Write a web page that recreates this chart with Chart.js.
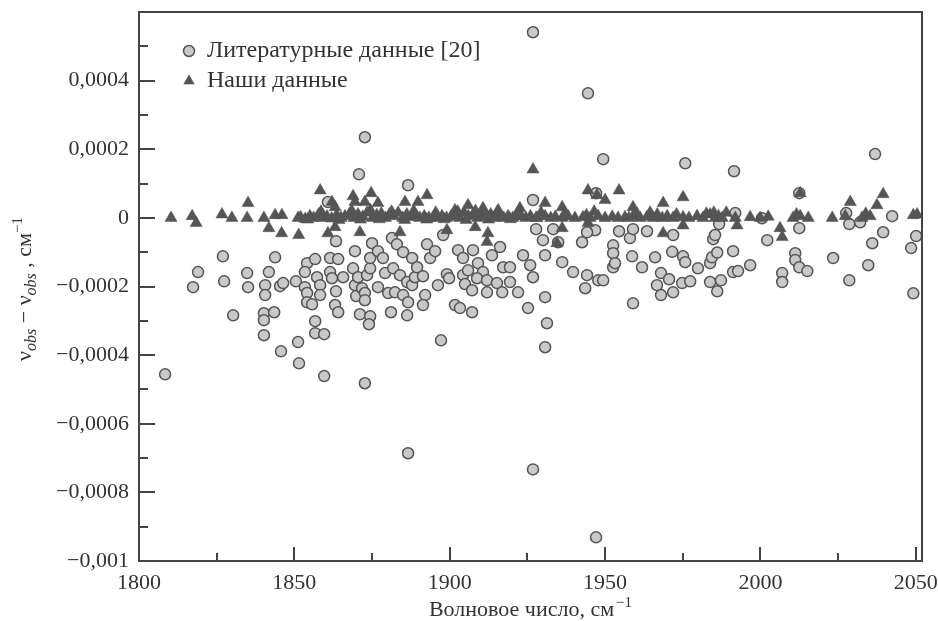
<!DOCTYPE html>
<html>
<head>
<meta charset="utf-8">
<script src="https://cdn.jsdelivr.net/npm/chart.js@4/dist/chart.umd.min.js"></script>
<style>
  html, body { margin: 0; padding: 0; background: #fff; }
  canvas { display: block; }
</style>
</head>
<body>
<canvas id="chart" width="938" height="621"></canvas>
<script>
// ─── данные: литературные (кружки) ───
const litX = [
  1808.4, 1817.4, 1819.0, 1827.0, 1827.4, 1830.3, 1834.8, 1835.1, 1840.2, 1840.2,
  1840.2, 1840.6, 1840.6, 1841.8, 1843.5, 1843.8, 1845.7, 1845.4, 1846.4, 1850.5,
  1851.2, 1851.5,
  1853.4, 1854.1, 1854.1, 1855.7, 1854.1, 1856.7, 1853.4, 1857.3, 1858.3, 1858.3,
  1861.5, 1864.1, 1861.5, 1862.1, 1863.4, 1863.4, 1863.1, 1864.1, 1865.7, 1869.5,
  1868.9, 1869.5, 1869.9, 1871.8, 1870.5, 1873.4, 1874.4, 1874.4, 1875.0, 1872.7,
  1872.7, 1871.1, 1874.4, 1874.0, 1876.9, 1876.9, 1878.5, 1879.2, 1880.2, 1881.8,
  1881.4, 1883.0, 1882.4, 1884.0, 1885.0, 1885.0, 1886.3, 1886.6, 1887.9, 1887.9,
  1888.8, 1889.5, 1891.4, 1892.1, 1892.7, 1893.7, 1891.4, 1886.3, 1881.1, 1895.3,
  1897.2, 1897.9, 1896.2, 1899.1, 1899.8, 1901.7, 1903.3, 1902.7, 1904.3, 1904.3,
  1904.9, 1856.7, 1856.7, 1859.6, 1859.6, 1872.7,
  1907.5, 1905.9, 1909.1, 1910.7, 1913.6, 1916.2, 1917.2, 1919.4, 1908.8, 1912.0,
  1915.2, 1919.4, 1907.2, 1912.0, 1916.9, 1922.0, 1907.2, 1925.2, 1930.7, 1931.3,
  1930.7, 1926.8, 1927.8, 1930.0, 1930.7, 1933.3, 1934.9, 1936.2, 1942.6, 1946.8,
  1939.7, 1944.2, 1943.6, 1947.8, 1952.6, 1952.6, 1949.4, 1925.9, 1926.8, 1923.6,
  1944.2,
  1954.5, 1952.6, 1953.2, 1958.0, 1959.0, 1963.5, 1958.7, 1961.9, 1966.1, 1968.0,
  1966.7, 1968.0, 1970.6, 1971.6, 1971.9, 1971.9, 1975.1, 1975.8, 1974.8, 1977.4,
  1979.9, 1983.8, 1983.8, 1984.4, 1984.8, 1985.4, 1986.1, 1987.3, 1986.1, 1959.0,
  1991.2, 1991.2, 1992.8, 1996.7, 2002.2, 2012.5, 2011.2, 2011.2, 2012.5, 2015.1,
  2007.0, 2007.0, 2023.4, 2028.6, 2034.7, 2036.0, 2039.5, 2050.1, 2048.5, 2049.2,
  2042.4, 2027.6, 2028.6, 2032.1, 1986.7, 2000.5, 1991.9,
  1926.8, 1944.5, 1872.7, 1870.8, 1886.6, 1949.4, 1947.1, 1860.8, 1975.8, 1991.5,
  2036.9, 2012.5, 1886.6, 1926.8, 1947.1
];
const litY = [
  -4.56e-4, -2.02e-4, -1.58e-4, -1.12e-4, -1.85e-4, -2.84e-4, -1.61e-4, -2.02e-4, -2.78e-4, -2.98e-4,
  -3.42e-4, -1.96e-4, -2.25e-4, -1.58e-4, -2.75e-4, -1.15e-4, -3.89e-4, -1.99e-4, -1.90e-4, -1.85e-4,
  -3.62e-4, -4.24e-4,
  -2.02e-4, -2.19e-4, -2.46e-4, -2.52e-4, -1.32e-4, -1.20e-4, -1.58e-4, -1.73e-4, -1.96e-4, -2.25e-4,
  -1.17e-4, -1.20e-4, -1.58e-4, -1.76e-4, -0.68e-4, -2.14e-4, -2.54e-4, -2.75e-4, -1.73e-4, -0.97e-4,
  -1.47e-4, -1.96e-4, -2.28e-4, -2.05e-4, -1.73e-4, -1.67e-4, -1.47e-4, -1.17e-4, -0.74e-4, -2.19e-4,
  -2.40e-4, -2.81e-4, -2.87e-4, -3.10e-4, -0.97e-4, -2.02e-4, -1.17e-4, -1.61e-4, -2.19e-4, -1.47e-4,
  -0.59e-4, -0.77e-4, -2.17e-4, -1.67e-4, -1.00e-4, -2.25e-4, -1.87e-4, -2.46e-4, -1.17e-4, -1.96e-4,
  -1.73e-4, -1.44e-4, -1.70e-4, -2.25e-4, -0.77e-4, -1.17e-4, -2.54e-4, -2.84e-4, -2.75e-4, -0.97e-4,
  -3.57e-4, -0.50e-4, -1.96e-4, -1.64e-4, -1.76e-4, -2.54e-4, -2.63e-4, -0.94e-4, -1.17e-4, -1.67e-4,
  -1.93e-4, -3.01e-4, -3.36e-4, -3.39e-4, -4.61e-4, -4.82e-4,
  -0.94e-4, -1.53e-4, -1.32e-4, -1.58e-4, -1.09e-4, -0.85e-4, -1.44e-4, -1.44e-4, -1.76e-4, -1.82e-4,
  -1.90e-4, -1.87e-4, -2.11e-4, -2.17e-4, -2.17e-4, -2.17e-4, -2.75e-4, -2.63e-4, -2.31e-4, -3.07e-4,
  -3.77e-4, 0.52e-4, -0.33e-4, -0.65e-4, -1.09e-4, -0.33e-4, -0.71e-4, -1.29e-4, -0.71e-4, -0.36e-4,
  -1.58e-4, -1.67e-4, -2.05e-4, -1.82e-4, -0.80e-4, -1.44e-4, -1.82e-4, -1.38e-4, -1.73e-4, -1.09e-4,
  -0.42e-4,
  -0.39e-4, -1.03e-4, -1.32e-4, -0.59e-4, -0.33e-4, -0.39e-4, -1.12e-4, -1.44e-4, -1.15e-4, -1.61e-4,
  -1.96e-4, -2.25e-4, -1.79e-4, -0.99e-4, -0.50e-4, -2.17e-4, -1.12e-4, -1.29e-4, -1.90e-4, -1.85e-4,
  -1.47e-4, -1.87e-4, -1.32e-4, -1.15e-4, -0.62e-4, -0.50e-4, -1.01e-4, -1.82e-4, -2.14e-4, -2.49e-4,
  -0.97e-4, -1.58e-4, -1.55e-4, -1.38e-4, -0.65e-4, -0.30e-4, -1.03e-4, -1.23e-4, -1.44e-4, -1.55e-4,
  -1.61e-4, -1.87e-4, -1.17e-4, -1.82e-4, -1.38e-4, -0.74e-4, -0.42e-4, -0.53e-4, -0.88e-4, -2.20e-4,
  0.05e-4, 0.14e-4, -0.18e-4, -0.13e-4, -0.18e-4, -0.01e-4, 0.14e-4,
  5.41e-4, 3.63e-4, 2.35e-4, 1.27e-4, 0.95e-4, 1.71e-4, 0.72e-4, 0.46e-4, 1.59e-4, 1.36e-4,
  1.86e-4, 0.72e-4, -6.86e-4, -7.33e-4, -9.31e-4
];

// ─── данные: наши (треугольники) ───
const ourX = [
  1810.3, 1817.1, 1818.4, 1826.7, 1829.9, 1835.1, 1834.8, 1840.2, 1841.8, 1843.8,
  1846.0, 1845.9, 1851.4, 1851.2,
  1852.0, 1853.5, 1855.0, 1856.2, 1857.8, 1859.0, 1860.5, 1862.0, 1863.6, 1865.0,
  1866.3, 1867.8, 1869.2, 1870.5, 1872.0, 1873.4, 1875.2, 1876.5, 1878.0, 1879.3,
  1880.6, 1882.0, 1883.4, 1884.9, 1886.2, 1887.7, 1889.0, 1890.4, 1891.8, 1893.3,
  1894.8, 1896.0, 1897.5, 1899.0, 1900.4, 1901.9, 1903.2, 1904.6, 1906.0, 1907.5,
  1909.0, 1910.3, 1911.8, 1913.2, 1914.5, 1916.0, 1917.4, 1918.8, 1920.3, 1921.6,
  1923.0, 1924.5, 1926.0, 1927.8,
  1854.3, 1858.6, 1864.4, 1868.5, 1871.3, 1874.5, 1877.3, 1881.3, 1885.5, 1888.4,
  1892.6, 1895.5, 1898.2, 1902.6, 1905.3, 1908.3, 1912.5, 1915.3, 1919.5, 1922.3,
  1858.3, 1862.1, 1863.1, 1868.9, 1869.5, 1874.7, 1872.7, 1876.9, 1885.6, 1889.8,
  1892.7, 1905.9, 1910.7, 1915.6, 1922.6, 1901.7, 1860.8, 1863.1, 1871.1, 1884.0,
  1899.1, 1908.2, 1912.3, 1926.8, 1934.5, 1912.0,
  1928.1, 1930.7, 1932.5, 1934.0, 1936.2, 1938.1, 1940.3, 1942.9, 1944.0, 1945.2,
  1947.8, 1950.0, 1952.3, 1954.2, 1956.4, 1957.7, 1959.0, 1961.3, 1963.5, 1965.5,
  1966.8, 1968.4, 1970.0, 1971.9, 1975.1, 1977.0, 1979.6, 1981.5, 1983.8, 1985.0,
  1985.4, 1986.5, 1987.7, 1991.9, 1996.7, 1999.9, 2002.5, 2010.5, 2012.8, 2015.4,
  2023.1, 2027.3, 2032.7, 2035.3, 2049.2, 2050.4,
  1929.4, 1937.1, 1946.5, 1960.2, 1964.5, 1973.0, 1982.6, 1989.0, 2011.6, 2033.9,
  1944.5, 1947.4, 1950.0, 1954.5, 1930.7, 1936.2, 1975.1, 1959.0, 1968.7, 2028.9,
  2039.5, 2037.5, 2012.8, 1944.5, 1975.1, 2006.3, 2007.0, 1968.7, 1936.2, 1992.5
];
const ourY = [
  0, 0.05e-4, -0.15e-4, 0.1e-4, 0, 0.43e-4, 0, 0, -0.30e-4, 0.08e-4,
  0.08e-4, -0.45e-4, -0.5e-4, 0,
  0.02e-4, -0.03e-4, 0.05e-4, 0, 0.1e-4, 0, 0.04e-4, -0.02e-4, 0.08e-4, 0,
  0.05e-4, 0.12e-4, 0, 0.1e-4, 0.03e-4, 0.15e-4, 0, 0.08e-4, 0.12e-4, 0,
  0.1e-4, 0.05e-4, 0.15e-4, 0, 0.1e-4, 0.02e-4, 0.08e-4, 0, 0.05e-4, 0,
  0.02e-4, 0, 0.05e-4, 0, 0.03e-4, 0.1e-4, 0, 0.15e-4, 0.05e-4, 0.1e-4,
  0, 0.12e-4, 0.04e-4, 0.1e-4, 0, 0.08e-4, 0, 0.05e-4, 0, 0.1e-4,
  0.04e-4, 0, 0.05e-4, 0,
  -0.05e-4, 0.18e-4, -0.06e-4, 0.2e-4, -0.05e-4, 0.22e-4, -0.04e-4, 0.18e-4, -0.06e-4, 0.2e-4,
  -0.05e-4, 0.15e-4, -0.04e-4, 0.18e-4, -0.06e-4, 0.2e-4, -0.05e-4, 0.16e-4, -0.04e-4, 0.15e-4,
  0.80e-4, 0.46e-4, 0.31e-4, 0.63e-4, 0.46e-4, 0.72e-4, 0.46e-4, 0.43e-4, 0.46e-4, 0.46e-4,
  0.66e-4, 0.37e-4, 0.28e-4, 0.22e-4, 0.28e-4, 0.22e-4, -0.45e-4, -0.27e-4, -0.42e-4, -0.42e-4,
  -0.36e-4, -0.27e-4, -0.45e-4, 1.41e-4, -0.74e-4, -0.70e-4,
  0, 0.05e-4, 0, 0.03e-4, 0, 0.05e-4, 0, 0.02e-4, 0.08e-4, 0,
  0.05e-4, 0, 0.03e-4, 0, 0.02e-4, 0, 0.05e-4, 0, 0.03e-4, 0,
  0.1e-4, 0, 0.05e-4, 0, 0.02e-4, 0, 0.05e-4, 0, 0.1e-4, 0.15e-4,
  0, 0.05e-4, 0, 0, 0.02e-4, 0, 0.03e-4, 0, 0.05e-4, 0,
  0, 0.05e-4, 0, 0.05e-4, 0.08e-4, 0.1e-4,
  0.15e-4, 0.12e-4, 0.18e-4, 0.12e-4, 0.15e-4, 0.1e-4, 0.12e-4, 0.15e-4, 0.1e-4, 0.12e-4,
  0.80e-4, 0.66e-4, 0.52e-4, 0.80e-4, 0.43e-4, 0.31e-4, 0.60e-4, 0.31e-4, 0.43e-4, 0.46e-4,
  0.69e-4, 0.37e-4, 0.72e-4, -0.15e-4, -0.22e-4, -0.30e-4, -0.56e-4, -0.45e-4, -0.30e-4, -0.22e-4
];

// ─── подписи ───
const litLabel = "Литературные данные [20]";
const ourLabel = "Наши данные";
const xTitle = "Волновое число, см";

const ink = "#444";
const serif = "'Liberation Serif', 'DejaVu Serif', serif";

// ─── форматирование меток ───
function fmtY(v) {
  const k = Math.round(v * 1e4);
  if (k % 2 !== 0 || k === 6) return "";
  if (k === 0) return "0";
  return String(parseFloat(v.toFixed(4))).replace(".", ",").replace("-", "\u2212");
}

function fmtX(v) {
  return Math.round(v) % 50 === 0 ? String(Math.round(v)) : "";
}

function triangle(ctx, x, y, r) {
  ctx.beginPath();
  ctx.moveTo(x, y - r);
  ctx.lineTo(x + r * 0.866, y + r / 2);
  ctx.lineTo(x - r * 0.866, y + r / 2);
  ctx.closePath();
  ctx.fill();
}

// ─── рамка, засечки, легенда, подписи осей ───
const decor = {
  id: "decor",
  afterDraw(chart) {
    const ctx = chart.ctx;
    const a = chart.chartArea;
    const xs = chart.scales.x, ys = chart.scales.y;
    ctx.save();
    ctx.strokeStyle = ink;
    ctx.lineWidth = 2;
    ctx.strokeRect(a.left, a.top, a.right - a.left, a.bottom - a.top);

    // засечки внутрь
    ctx.beginPath();
    ys.ticks.forEach(t => {
      const k = Math.round(t.value * 1e4);
      if (k >= 6) return;
      const py = Math.round(ys.getPixelForValue(t.value));
      const len = k % 2 === 0 ? 16 : 9;
      ctx.moveTo(a.left, py);
      ctx.lineTo(a.left + len, py);
    });
    xs.ticks.forEach(t => {
      const k = Math.round(t.value);
      if (k <= 1800) return;
      const px = Math.round(xs.getPixelForValue(t.value));
      const len = k % 50 === 0 ? 14 : 8;
      ctx.moveTo(px, a.bottom);
      ctx.lineTo(px, a.bottom - len);
    });
    ctx.stroke();

    // легенда
    ctx.fillStyle = "#c9c9c9";
    ctx.strokeStyle = "#555";
    ctx.lineWidth = 1.5;
    ctx.beginPath();
    ctx.arc(189, 51, 5.5, 0, Math.PI * 2);
    ctx.fill();
    ctx.stroke();
    ctx.fillStyle = "#555";
    triangle(ctx, 189, 81, 6.5);
    ctx.fillStyle = "#333";
    ctx.font = "24px " + serif;
    ctx.textBaseline = "middle";
    ctx.textAlign = "left";
    ctx.fillText(litLabel, 207, 51);
    ctx.fillText(ourLabel, 207, 81);

    // подпись оси X
    ctx.textBaseline = "alphabetic";
    ctx.font = "22px " + serif;
    const w1 = ctx.measureText(xTitle).width;
    ctx.font = "15px " + serif;
    const w2 = ctx.measureText("\u22121").width;
    const x0 = (a.left + a.right) / 2 - (w1 + w2 + 2) / 2;
    ctx.font = "22px " + serif;
    ctx.fillText(xTitle, x0, 616);
    ctx.font = "15px " + serif;
    ctx.fillText("\u22121", x0 + w1 + 2, 607);

    // подпись оси Y
    const parts = [
      ["\u03bd", "22px", 0], ["obs", "italic 16px", 5], [" \u2212 ", "22px", 0],
      ["\u03bd", "22px", 0], ["obs", "italic 16px", 5], [" , см", "22px", 0],
      ["\u22121", "15px", -9]
    ];
    let total = 0;
    parts.forEach(p => { ctx.font = p[1] + " " + serif; total += ctx.measureText(p[0]).width; });
    ctx.translate(31, 289);
    ctx.rotate(-Math.PI / 2);
    let cx = -total / 2;
    parts.forEach(p => {
      ctx.font = p[1] + " " + serif;
      ctx.fillText(p[0], cx, p[2]);
      cx += ctx.measureText(p[0]).width;
    });
    ctx.restore();
  }
};

new Chart(document.getElementById("chart"), {
  type: "scatter",
  data: {
    datasets: [
      {
        label: litLabel,
        data: litX.map((x, i) => ({ x, y: litY[i] })),
        pointStyle: "circle",
        pointRadius: 5.5,
        pointBackgroundColor: "#c9c9c9",
        pointBorderColor: "#555",
        pointBorderWidth: 1.5,
        order: 2
      },
      {
        label: ourLabel,
        data: ourX.map((x, i) => ({ x, y: ourY[i] })),
        pointStyle: "triangle",
        pointRadius: 7,
        pointBackgroundColor: "#555",
        pointBorderColor: "#555",
        pointBorderWidth: 0.5,
        order: 1
      }
    ]
  },
  options: {
    responsive: false,
    animation: false,
    events: [],
    layout: { padding: { left: 0, right: 16, top: 12, bottom: 0 } },
    plugins: { legend: { display: false }, tooltip: { enabled: false } },
    scales: {
      x: {
        type: "linear",
        min: 1800,
        max: 2052,
        grid: { display: false, drawTicks: false },
        border: { display: false },
        ticks: {
          stepSize: 25,
          includeBounds: false,
          autoSkip: false,
          maxRotation: 0,
          padding: 9,
          color: "#333",
          font: { family: serif, size: 22 },
          callback: fmtX
        },
        afterFit(s) { s.height = 60; s.paddingLeft = 0; s.paddingRight = 0; }
      },
      y: {
        type: "linear",
        min: -0.001,
        max: 0.0006,
        grid: { display: false, drawTicks: false },
        border: { display: false },
        ticks: {
          stepSize: 0.0001,
          autoSkip: false,
          padding: 10,
          color: "#333",
          font: { family: serif, size: 22 },
          callback: fmtY
        },
        afterFit(s) { s.width = 139; s.paddingTop = 0; s.paddingBottom = 0; }
      }
    }
  },
  plugins: [decor]
});
</script>
</body>
</html>
